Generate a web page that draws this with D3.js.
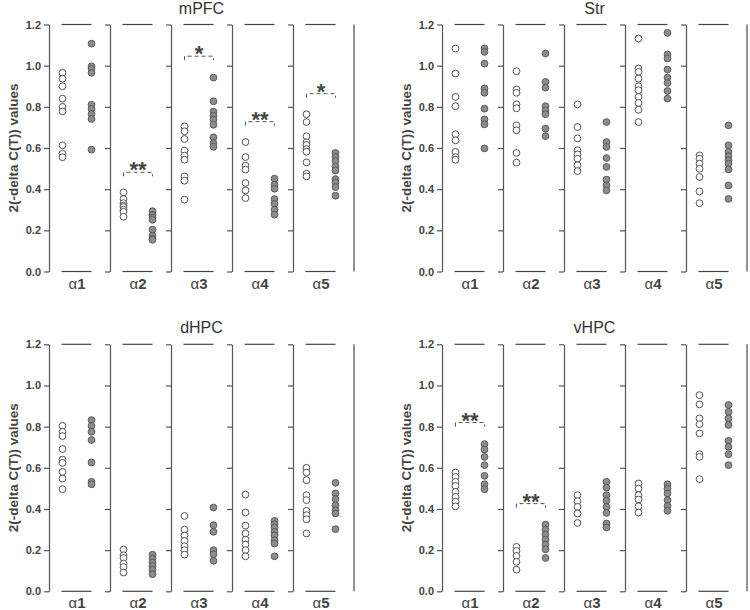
<!DOCTYPE html>
<html>
<head>
<meta charset="utf-8">
<script src="https://cdn.jsdelivr.net/npm/d3@7"></script>
<style>
  body { margin: 0; background: #fff; }
  svg { display: block; }
  text { font-family: "Liberation Sans", Arial, sans-serif; }
</style>
</head>
<body>
<svg id="chart" width="750" height="610"></svg>
<script>
// Categories and tick values
const subunits = ["1", "2", "3", "4", "5"];
const yTicks = [0, 0.2, 0.4, 0.6, 0.8, 1.0, 1.2];

// mPFC (open = control, filled = treated), one list per subunit
const mpfcOpen = [
    [0.965, 0.937, 0.90, 0.84, 0.80, 0.778, 0.613, 0.572, 0.555],
    [0.384, 0.352, 0.332, 0.32, 0.313, 0.30, 0.29, 0.266],
    [0.705, 0.681, 0.644, 0.587, 0.563, 0.543, 0.462, 0.441, 0.349],
    [0.629, 0.556, 0.514, 0.495, 0.43, 0.394, 0.357],
    [0.764, 0.726, 0.657, 0.628, 0.615, 0.595, 0.582, 0.53, 0.475, 0.462]
];
const mpfcFilled = [
    [1.107, 0.997, 0.984, 0.965, 0.81, 0.79, 0.765, 0.741, 0.592],
    [0.293, 0.274, 0.262, 0.251, 0.203, 0.174, 0.16, 0.154],
    [0.942, 0.827, 0.777, 0.757, 0.738, 0.713, 0.652, 0.624, 0.606],
    [0.451, 0.422, 0.402, 0.352, 0.329, 0.30, 0.276],
    [0.576, 0.556, 0.537, 0.511, 0.491, 0.449, 0.433, 0.41, 0.368]
];
const mpfcSig = [[1, 0.482, "**"], [2, 1.046, "*"], [3, 0.728, "**"], [4, 0.864, "*"]];

// Str
const strOpen = [
    [1.083, 0.962, 0.848, 0.803, 0.667, 0.637, 0.581, 0.556, 0.543],
    [0.973, 0.884, 0.868, 0.812, 0.793, 0.71, 0.686, 0.576, 0.529],
    [0.812, 0.702, 0.647, 0.589, 0.569, 0.548, 0.516, 0.488],
    [1.132, 0.986, 0.970, 0.937, 0.90, 0.881, 0.848, 0.819, 0.786, 0.726],
    [0.564, 0.548, 0.524, 0.499, 0.459, 0.389, 0.332]
];
const strFilled = [
    [1.083, 1.067, 1.01, 0.889, 0.868, 0.791, 0.739, 0.715, 0.598],
    [1.059, 0.921, 0.893, 0.803, 0.783, 0.764, 0.694, 0.658],
    [0.726, 0.629, 0.605, 0.551, 0.508, 0.446, 0.418, 0.394],
    [1.159, 1.054, 1.035, 0.981, 0.942, 0.916, 0.877, 0.84],
    [0.71, 0.613, 0.581, 0.56, 0.54, 0.524, 0.496, 0.418, 0.353]
];
const strSig = [];

// dHPC
const dhpcOpen = [
    [0.804, 0.775, 0.754, 0.691, 0.64, 0.624, 0.58, 0.548, 0.496],
    [0.203, 0.175, 0.162, 0.135, 0.118, 0.091],
    [0.366, 0.30, 0.271, 0.245, 0.219, 0.20, 0.178],
    [0.47, 0.383, 0.319, 0.281, 0.251, 0.227, 0.20, 0.17],
    [0.60, 0.577, 0.54, 0.467, 0.443, 0.391, 0.37, 0.35, 0.281]
];
const dhpcFilled = [
    [0.832, 0.803, 0.775, 0.735, 0.626, 0.532, 0.52],
    [0.178, 0.159, 0.139, 0.123, 0.105, 0.083],
    [0.407, 0.321, 0.289, 0.20, 0.18, 0.148],
    [0.342, 0.326, 0.31, 0.289, 0.272, 0.248, 0.232, 0.17],
    [0.527, 0.475, 0.448, 0.418, 0.394, 0.378, 0.302]
];
const dhpcSig = [];

// vHPC
const vhpcOpen = [
    [0.577, 0.556, 0.532, 0.512, 0.483, 0.459, 0.435, 0.413],
    [0.216, 0.196, 0.172, 0.143, 0.105],
    [0.467, 0.438, 0.41, 0.378, 0.332],
    [0.524, 0.499, 0.467, 0.446, 0.413, 0.383],
    [0.953, 0.908, 0.84, 0.812, 0.767, 0.666, 0.653, 0.545]
];
const vhpcFilled = [
    [0.715, 0.689, 0.653, 0.613, 0.561, 0.52, 0.496],
    [0.324, 0.30, 0.276, 0.251, 0.227, 0.204, 0.162],
    [0.532, 0.504, 0.467, 0.44, 0.41, 0.381, 0.329, 0.31],
    [0.52, 0.499, 0.475, 0.443, 0.415, 0.391],
    [0.905, 0.872, 0.84, 0.808, 0.731, 0.702, 0.666, 0.613]
];
const vhpcSig = [[0, 0.82, "**"], [1, 0.426, "**"]];

const svg = d3.select("#chart");
const axisColor = "#555";

// Draw one region panel made of five sub-plots
function drawPanel(left, top, title, openData, filledData, sigData) {
    const g = svg.append("g").attr("transform", `translate(${left},${top})`);
    const plotW = 305, plotH = 247;

    const y = d3.scaleLinear().domain([0, 1.2]).range([plotH, 0]);
    const x = d3.scaleBand().domain(subunits).range([0, plotW]).paddingInner(0).paddingOuter(0);
    const grp = d3.scalePoint().domain(["open", "filled"]).range([13.5, 42.5]);

    // Title
    g.append("text")
        .attr("x", plotW / 2)
        .attr("y", -11)
        .attr("text-anchor", "middle")
        .attr("font-size", 16)
        .attr("fill", "#333")
        .text(title);

    // Y-axis title
    g.append("text")
        .attr("transform", "rotate(-90)")
        .attr("x", -plotH / 2)
        .attr("y", -31)
        .attr("text-anchor", "middle")
        .attr("font-size", 13.5)
        .attr("font-weight", "bold")
        .attr("fill", "#444")
        .text("2(-delta C(T)) values");

    subunits.forEach((s, i) => {
        const sg = g.append("g").attr("transform", `translate(${x(s)},0)`);

        // Left axis of each sub-plot
        const ax = sg.append("g")
            .call(d3.axisLeft(y).tickValues(yTicks).tickSize(5).tickSizeOuter(0)
                .tickFormat(i === 0 ? d3.format(".1f") : () => ""));
        ax.select(".domain").attr("stroke", axisColor).attr("stroke-width", 1.2);
        ax.selectAll(".tick line").attr("stroke", axisColor).attr("stroke-width", 1.2);
        ax.selectAll(".tick text")
            .attr("font-size", 11)
            .attr("font-weight", "bold")
            .attr("fill", "#444")
            .attr("x", -8)
            .style("font-family", '"Liberation Sans", Arial, sans-serif');

        // Short top / bottom lines
        [0, 1.2].forEach(v => {
            sg.append("line")
                .attr("x1", grp("open") - 1).attr("x2", grp("filled"))
                .attr("y1", y(v)).attr("y2", y(v))
                .attr("stroke", "#444").attr("stroke-width", 1.2);
        });

        // Category label
        const lab = sg.append("text")
            .attr("x", (grp("open") + grp("filled")) / 2)
            .attr("y", plotH + 17)
            .attr("text-anchor", "middle")
            .attr("font-size", 15)
            .attr("fill", "#444");
        lab.append("tspan").text("α");
        lab.append("tspan").attr("font-weight", "bold").text(s);

        // Points
        sg.selectAll(".open")
            .data(openData[i])
            .enter()
            .append("circle")
            .attr("class", "open")
            .attr("cx", grp("open"))
            .attr("cy", d => y(d))
            .attr("r", 3.4)
            .attr("fill", "#fff")
            .attr("stroke", "#444")
            .attr("stroke-width", 0.9);

        sg.selectAll(".filled")
            .data(filledData[i])
            .enter()
            .append("circle")
            .attr("class", "filled")
            .attr("cx", grp("filled"))
            .attr("cy", d => y(d))
            .attr("r", 3.4)
            .attr("fill", "#8c8c8c")
            .attr("stroke", "#555")
            .attr("stroke-width", 0.9);
    });

    // Right frame line
    g.append("line")
        .attr("x1", plotW).attr("x2", plotW)
        .attr("y1", y(1.2)).attr("y2", y(0))
        .attr("stroke", "#666").attr("stroke-width", 1.4);

    // Significance brackets
    sigData.forEach(([idx, v, label]) => {
        const x0 = x(subunits[idx]) + grp("open"), x1 = x(subunits[idx]) + grp("filled");
        const yy = y(v);
        g.append("path")
            .attr("d", `M${x0},${yy + 4}V${yy}H${x1}V${yy + 4}`)
            .attr("fill", "none")
            .attr("stroke", "#555")
            .attr("stroke-width", 1)
            .attr("stroke-dasharray", "4,3");
        g.append("text")
            .attr("x", (x0 + x1) / 2)
            .attr("y", yy + 5)
            .attr("text-anchor", "middle")
            .attr("font-size", 22)
            .attr("font-weight", "bold")
            .attr("fill", "#444")
            .text(label);
    });
}

drawPanel(49, 24.5, "mPFC", mpfcOpen, mpfcFilled, mpfcSig);
drawPanel(442, 24.5, "Str", strOpen, strFilled, strSig);
drawPanel(49, 344.3, "dHPC", dhpcOpen, dhpcFilled, dhpcSig);
drawPanel(442, 344.3, "vHPC", vhpcOpen, vhpcFilled, vhpcSig);
</script>
</body>
</html>
